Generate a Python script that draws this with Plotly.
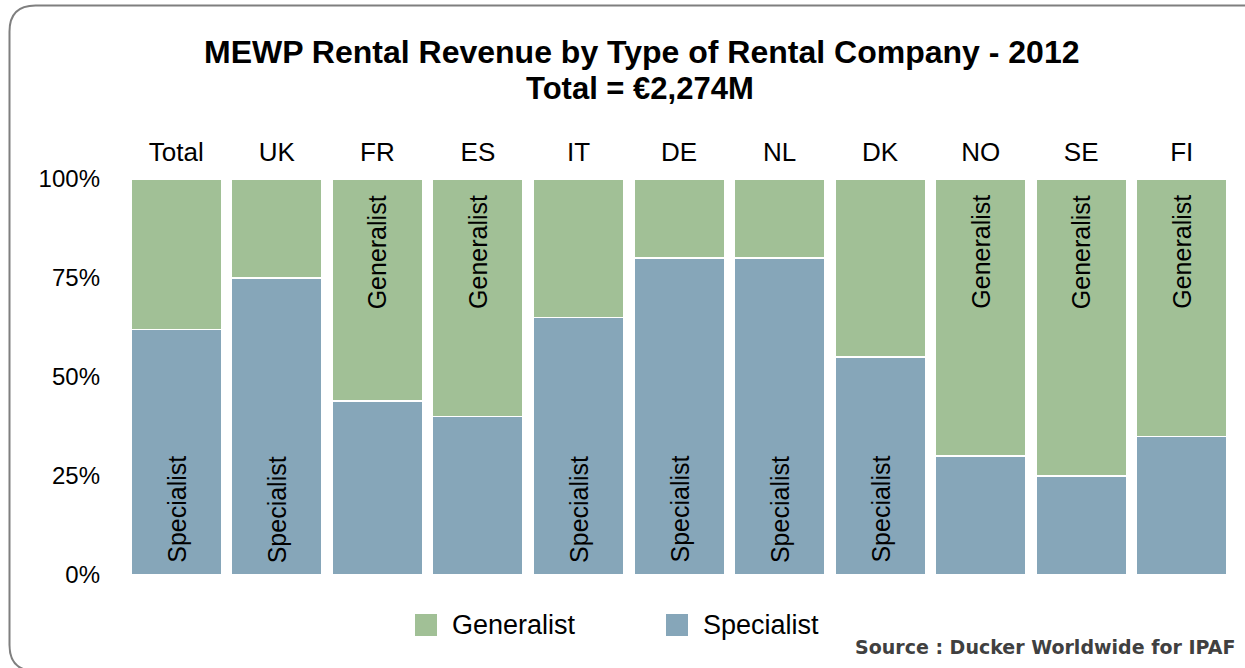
import plotly.graph_objects as go

# ---- data ----
categories = ["Total", "UK", "FR", "ES", "IT", "DE", "NL", "DK", "NO", "SE", "FI"]
specialist = [62, 75, 44, 40, 65, 80, 80, 55, 30, 25, 35]
generalist = [100 - v for v in specialist]
spec_label_on = [True, True, False, False, True, True, True, True, False, False, False]
gen_label_on = [False, False, True, True, False, False, False, False, True, True, True]

title_line1 = "MEWP Rental Revenue by Type of Rental Company - 2012"
title_line2 = "Total = €2,274M"
source_text = "Source : Ducker Worldwide for IPAF"
y_ticks = [0, 25, 50, 75, 100]
y_tick_labels = ["0%", "25%", "50%", "75%", "100%"]

GREEN = "#A1C096"
BLUE = "#86A6B9"
FONT = "Arial, Liberation Sans, sans-serif"

W, H = 1245, 668
L, R, T, B = 126, 13, 179, 93
PW = W - L - R
PH = H - T - B


def px_x(px):
    return (px - L) / PW


def px_y(py):
    return (H - B - py) / PH


fig = go.Figure()
fig.add_trace(go.Bar(x=categories, y=specialist, name="Specialist",
                     marker=dict(color=BLUE, line=dict(color="white", width=1.5)),
                     hoverinfo="x+y+name"))
fig.add_trace(go.Bar(x=categories, y=generalist, name="Generalist",
                     marker=dict(color=GREEN, line=dict(color="white", width=1.5)),
                     hoverinfo="x+y+name"))

annotations = []
for c, on in zip(categories, spec_label_on):
    if on:
        annotations.append(dict(x=c, y=0, xref="x", yref="y", text="Specialist",
                                textangle=-90, showarrow=False, yanchor="bottom",
                                yshift=10, font=dict(family=FONT, size=25, color="black")))
for c, on in zip(categories, gen_label_on):
    if on:
        annotations.append(dict(x=c, y=100, xref="x", yref="y", text="Generalist",
                                textangle=-90, showarrow=False, yanchor="top",
                                yshift=-14, font=dict(family=FONT, size=25, color="black")))

# titles
annotations.append(dict(x=px_x(641), y=px_y(52), xref="paper", yref="paper",
                        text="<b>" + title_line1 + "</b>", showarrow=False,
                        xanchor="center", yanchor="middle",
                        font=dict(family=FONT, size=32, color="black")))
annotations.append(dict(x=px_x(640), y=px_y(89), xref="paper", yref="paper",
                        text="<b>" + title_line2 + "</b>", showarrow=False,
                        xanchor="center", yanchor="middle",
                        font=dict(family=FONT, size=31, color="black")))
# source
annotations.append(dict(x=px_x(1237), y=px_y(647), xref="paper", yref="paper",
                        text="<b>" + source_text + "</b>", showarrow=False,
                        xanchor="right", yanchor="middle",
                        font=dict(family="DejaVu Sans, sans-serif", size=19, color="#404040")))

# legend (manual)
shapes = []
legend_items = [("Generalist", GREEN, 415), ("Specialist", BLUE, 666)]
for name, col, x0 in legend_items:
    shapes.append(dict(type="rect", xref="paper", yref="paper",
                       x0=px_x(x0), x1=px_x(x0 + 22), y0=px_y(636), y1=px_y(614),
                       fillcolor=col, line=dict(color=col, width=0)))
    annotations.append(dict(x=px_x(x0 + 35), y=px_y(625), xref="paper", yref="paper",
                            text=name, showarrow=False, xanchor="left", yanchor="middle",
                            font=dict(family=FONT, size=27, color="black")))

# rounded border
bl, bt, br, bb, rad = 9.5, 5.5, 1268, 671, 26
path = (f"M {px_x(bl + rad)},{px_y(bt)} L {px_x(br - rad)},{px_y(bt)} "
        f"Q {px_x(br)},{px_y(bt)} {px_x(br)},{px_y(bt + rad)} "
        f"L {px_x(br)},{px_y(bb - rad)} Q {px_x(br)},{px_y(bb)} {px_x(br - rad)},{px_y(bb)} "
        f"L {px_x(bl + rad)},{px_y(bb)} Q {px_x(bl)},{px_y(bb)} {px_x(bl)},{px_y(bb - rad)} "
        f"L {px_x(bl)},{px_y(bt + rad)} Q {px_x(bl)},{px_y(bt)} {px_x(bl + rad)},{px_y(bt)} Z")
shapes.append(dict(type="path", path=path, xref="paper", yref="paper",
                   line=dict(color="#7F7F7F", width=2), layer="above"))

fig.update_layout(
    width=W, height=H,
    margin=dict(l=L, r=R, t=T, b=B, pad=0),
    barmode="stack", bargap=0.1,
    showlegend=False,
    plot_bgcolor="white", paper_bgcolor="white",
    font=dict(family=FONT, color="black"),
    annotations=annotations, shapes=shapes,
    xaxis=dict(side="top", showline=False, showgrid=False, zeroline=False,
               ticks="", tickfont=dict(size=26, color="black"),
               ticklabelstandoff=12),
    yaxis=dict(range=[0, 100], tickmode="array", tickvals=y_ticks, ticktext=y_tick_labels,
               showline=False, showgrid=False, zeroline=False, ticks="",
               tickfont=dict(size=24, color="black"), ticklabelstandoff=25),
)

fig.write_html("out.html", config={"displayModeBar": False},
               post_script="document.body.style.margin='0';document.body.style.overflow='hidden';")
